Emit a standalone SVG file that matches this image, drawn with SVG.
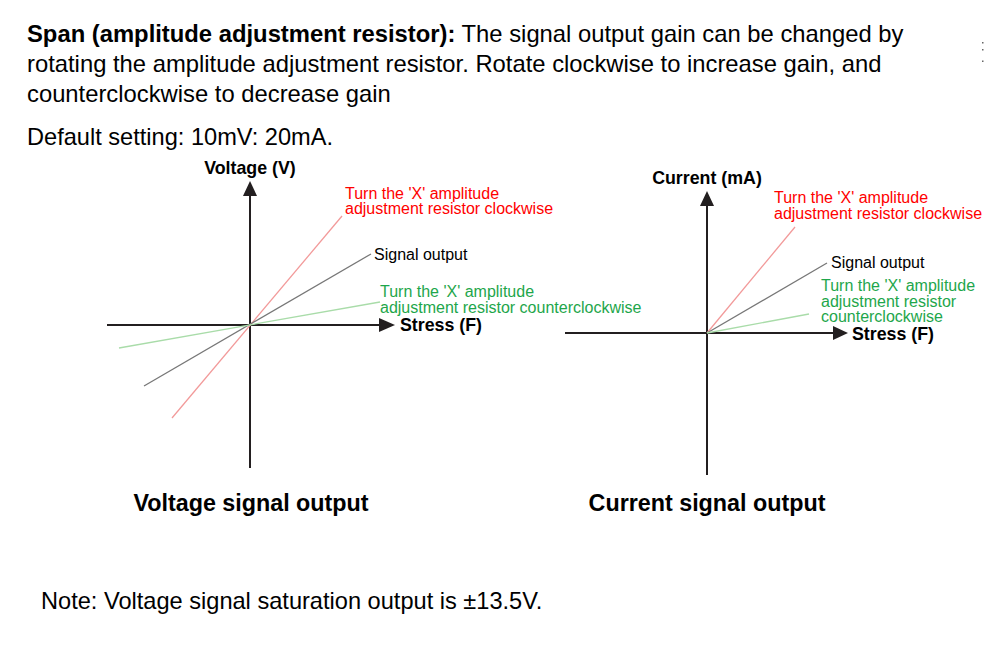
<svg xmlns="http://www.w3.org/2000/svg" width="1000" height="670" viewBox="0 0 1000 670">
<style>
.t{font-family:"Liberation Sans",Arial,sans-serif;fill:#000}
.h{font-size:23.6px}
.h1{font-size:23.8px}
.b{font-weight:bold}
.lbl{font-size:17.8px;font-weight:bold}
.s{font-size:16px}
.red{fill:#ff0000}
.grn{fill:#1ea64b}
.cap{font-size:23.3px;font-weight:bold;text-anchor:middle}
.axis{stroke:#231f20;stroke-width:2;fill:none}
.head{fill:#231f20}
.lr{stroke:#f29a9a;stroke-width:1.3}
.lg{stroke:#777;stroke-width:1.3}
.lgr{stroke:#a9dca9;stroke-width:1.3}
</style>
<rect width="1000" height="670" fill="#fff"/>
<g id="header">
<text class="t h1" x="27" y="41.5"><tspan class="b">Span (amplitude adjustment resistor):</tspan> The signal output gain can be changed by</text>
<text class="t h1" x="27" y="71.5">rotating the amplitude adjustment resistor. Rotate clockwise to increase gain, and</text>
<text class="t h1" x="27" y="101.5">counterclockwise to decrease gain</text>
<text class="t h" x="27" y="145">Default setting: 10mV: 20mA.</text>
</g>
<g id="dots" fill="#666">
<rect x="982" y="42" width="1.5" height="1.5"/>
<rect x="982" y="49" width="1.5" height="1.5"/>
<rect x="982" y="60.5" width="1.5" height="1.5"/>
</g>
<g id="voltage-chart">
<line class="axis" x1="250" y1="195" x2="250" y2="468"/>
<line class="axis" x1="107" y1="325" x2="380" y2="325"/>
<polygon class="head" points="250,181 243,196 257,196"/>
<polygon class="head" points="379,318 395,325 379,332"/>
<line class="lr" x1="172" y1="418" x2="342" y2="216"/>
<line class="lg" x1="144" y1="386" x2="371" y2="254"/>
<line class="lgr" x1="119" y1="348" x2="380" y2="302"/>
<text class="t lbl" x="250" y="174" text-anchor="middle">Voltage (V)</text>
<text class="t lbl" x="400" y="331">Stress (F)</text>
<text class="t s red" x="345" y="198.5">Turn the 'X' amplitude</text>
<text class="t s red" x="345" y="214">adjustment resistor clockwise</text>
<text class="t s" x="374" y="260">Signal output</text>
<text class="t s grn" x="380" y="297">Turn the 'X' amplitude</text>
<text class="t s grn" x="380" y="313">adjustment resistor counterclockwise</text>
<text class="t cap" x="251" y="511">Voltage signal output</text>
</g>
<g id="current-chart">
<line class="axis" x1="707" y1="204" x2="707" y2="475"/>
<line class="axis" x1="565" y1="333" x2="834" y2="333"/>
<polygon class="head" points="707,191 700,206 714,206"/>
<polygon class="head" points="833,326 848,333 833,340"/>
<line class="lr" x1="707" y1="333" x2="795" y2="227"/>
<line class="lg" x1="707" y1="333" x2="827" y2="263"/>
<line class="lgr" x1="707" y1="333" x2="809" y2="314"/>
<text class="t lbl" x="707" y="183.5" text-anchor="middle">Current (mA)</text>
<text class="t lbl" x="852" y="340">Stress (F)</text>
<text class="t s red" x="774" y="202.5">Turn the 'X' amplitude</text>
<text class="t s red" x="774" y="218.5">adjustment resistor clockwise</text>
<text class="t s" x="831" y="267.5">Signal output</text>
<text class="t s grn" x="821" y="290.5">Turn the 'X' amplitude</text>
<text class="t s grn" x="821" y="306.5">adjustment resistor</text>
<text class="t s grn" x="821" y="322">counterclockwise</text>
<text class="t cap" x="707" y="511">Current signal output</text>
</g>
<g id="note">
<text class="t h" x="41" y="609">Note: Voltage signal saturation output is ±13.5V.</text>
</g>
</svg>
